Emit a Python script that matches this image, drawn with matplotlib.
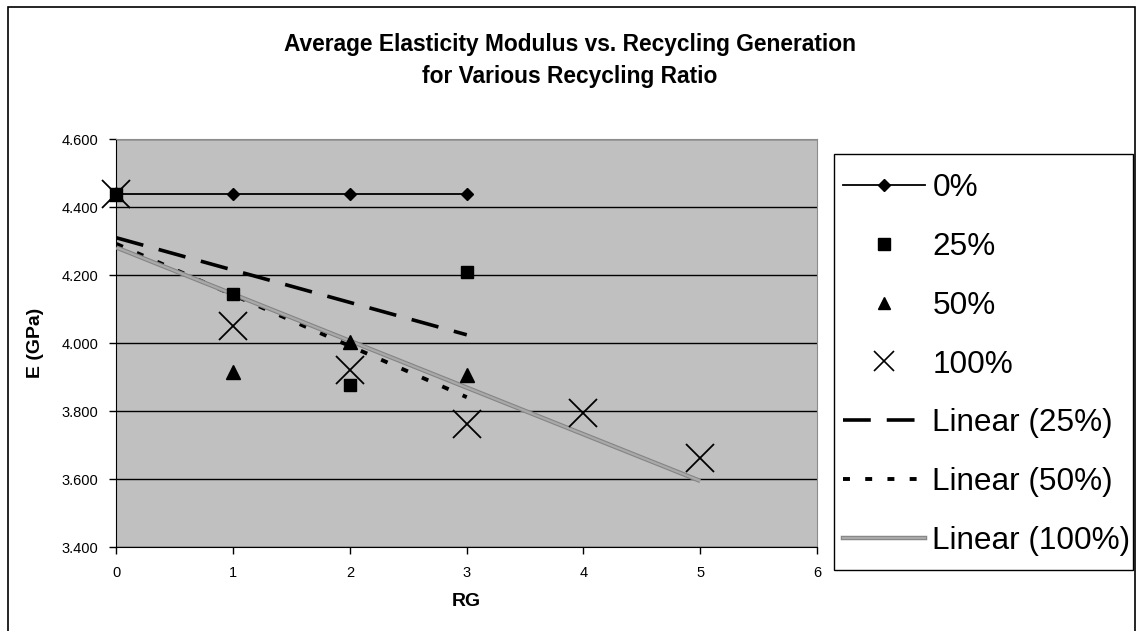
import numpy as np
import matplotlib
matplotlib.use('Agg')
import matplotlib.pyplot as plt
import matplotlib.patheffects as pe
from matplotlib.lines import Line2D
from matplotlib.patches import Rectangle

plt.rcParams['font.family'] = ['Liberation Sans', 'DejaVu Sans']
plt.rcParams['lines.scale_dashes'] = False

# recycling generation and average E (GPa) per recycling ratio
rg = [0, 1, 2, 3, 4, 5]
e_0 = [4.437, 4.437, 4.437, 4.437]
e_25 = [4.437, 4.144, 3.877, 4.209]
e_50 = [4.437, 3.916, 4.004, 3.907]
e_100 = [4.437, 4.050, 3.921, 3.761, 3.795, 3.661]
y_ticks = [3.4, 3.6, 3.8, 4.0, 4.2, 4.4, 4.6]
x_ticks = [0, 1, 2, 3, 4, 5, 6]

W, H = 1139.0, 631.0
fig = plt.figure(figsize=(11.39, 6.31), dpi=100)
ax = fig.add_axes([0.10228, 0.13312, 0.61501, 0.64659])
ax.set_facecolor('#c0c0c0')

# linear trendlines, fitted on the data like excel does
def trend(x, y):
	k, b = np.polyfit(x, y, 1)
	xs = np.array([x[0], x[-1]])
	return xs, k * xs + b

gray_fx = [pe.Stroke(linewidth=3.2, foreground='#858585'), pe.Normal()]

tx, ty = trend(rg[:4], e_25)
ax.plot(tx, ty, color='k', lw=2.6, ls=(0, (20, 11.5)), zorder=2.6)
tx, ty = trend(rg[:4], e_50)
ax.plot(tx, ty, color='k', lw=2.8, ls=(0, (5, 11)), zorder=2.6)
tx, ty = trend(rg, e_100)
ax.plot(tx, ty, color='#a9a9a9', lw=1.6, path_effects=gray_fx, zorder=2.6, solid_capstyle='butt')

# data series
ax.plot(rg[:4], e_0, color='k', lw=1.3, marker='D', ms=6.5, zorder=3, clip_on=False)
ax.plot(rg[:4], e_25, ls='none', color='k', marker='s', ms=9, zorder=3.1, clip_on=False)
ax.plot(rg[:4], e_50, ls='none', color='k', marker='^', ms=10, zorder=3, clip_on=False)
ax.plot(rg, e_100, ls='none', color='k', marker='x', ms=20, mew=1.3, zorder=3.2, clip_on=False)

ax.set_xlim(0, 6)
ax.set_ylim(3.4, 4.6)
ax.set_xticks(x_ticks)
ax.set_yticks(y_ticks)
ax.set_yticklabels(['%.3f' % v for v in y_ticks])
ax.yaxis.grid(True, color='k', lw=1)
ax.set_axisbelow(True)
ax.tick_params(direction='out', length=5, width=1, labelsize=10.5, color='k')
ax.tick_params(axis='y', pad=8)
ax.tick_params(axis='x', pad=9)
for s in ['top', 'right']:
	ax.spines[s].set_color('#8c8c8c')
for s in ['left', 'bottom']:
	ax.spines[s].set_color('k')

ax.set_xlabel('RG', fontsize=14, fontweight='bold')
ax.xaxis.set_label_coords(0.5, -0.112)
ax.set_ylabel('E (GPa)', fontsize=14, fontweight='bold')
ax.yaxis.set_label_coords(-0.103, 0.5)

fig.text(0.5, 1 - 44 / H, 'Average Elasticity Modulus vs. Recycling Generation',
	ha='center', va='center', fontsize=16.4, fontweight='bold')
fig.text(0.5, 1 - 77 / H, 'for Various Recycling Ratio',
	ha='center', va='center', fontsize=16.4, fontweight='bold')

# legend with hand made handles, box drawn separately
handles = [
	Line2D([], [], color='k', lw=1.3, marker='D', ms=6.5),
	Line2D([], [], ls='none', color='k', marker='s', ms=9),
	Line2D([], [], ls='none', color='k', marker='^', ms=9),
	Line2D([], [], ls='none', color='k', marker='x', ms=15, mew=1.2),
	Line2D([], [], color='k', lw=2.6, ls=(0, (20, 11.5))),
	Line2D([], [], color='k', lw=2.8, ls=(0, (5, 11))),
	Line2D([], [], color='#a9a9a9', lw=1.6, path_effects=gray_fx),
]
labels = ['0%', '25%', '50%', '100%', 'Linear (25%)', 'Linear (50%)', 'Linear (100%)']
leg = fig.legend(handles, labels, loc='upper left', bbox_to_anchor=(834 / W, 1 - 164 / H),
	fontsize=22.7, numpoints=1, handlelength=2.6, handletextpad=0.22, labelspacing=0.91,
	borderpad=0.3, borderaxespad=0, frameon=False)
fig.patches.append(Rectangle((834 / W, 1 - 570 / H), 299 / W, 416 / H,
	transform=fig.transFigure, fill=False, edgecolor='k', lw=1))

# outer chart border
fig.patches.append(Rectangle((8 / W, -0.05), 1127 / W, 1.05 - 7 / H,
	transform=fig.transFigure, fill=False, edgecolor='k', lw=1.2))

fig.savefig('out.png', dpi=100)
